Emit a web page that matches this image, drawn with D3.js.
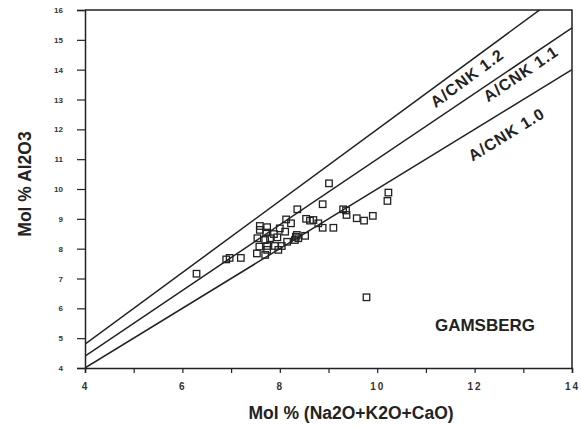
<!DOCTYPE html>
<html>
<head>
<meta charset="utf-8">
<script src="https://cdn.jsdelivr.net/npm/d3@7/dist/d3.min.js"></script>
<style>
  html, body { margin: 0; padding: 0; background: #fff; }
  svg { display: block; font-family: "Liberation Sans", Arial, Helvetica, sans-serif; }
</style>
</head>
<body>
<svg id="chart" width="581" height="427"></svg>
<script>
// Gamsberg samples: molar (Na2O+K2O+CaO) vs molar Al2O3
const sampleX = [6.29, 6.90, 6.97, 7.20, 7.53, 7.70, 7.74, 7.58, 7.74, 7.90, 8.04, 7.97,
  7.54, 7.70, 7.80, 7.95, 8.15, 7.59, 7.59, 7.74, 7.72, 7.88, 8.00, 8.11, 8.13, 8.23,
  8.36, 8.31, 8.35, 8.38, 8.33, 8.52, 8.54, 8.62, 8.69, 8.79, 8.88, 9.10, 8.88, 9.01,
  9.30, 9.36, 9.37, 9.58, 9.73, 9.91, 10.23, 10.21, 9.78];
const sampleY = [7.16, 7.64, 7.69, 7.69, 7.84, 7.79, 7.96, 8.07, 8.09, 8.09, 8.09, 7.96,
  8.35, 8.29, 8.35, 8.38, 8.23, 8.63, 8.76, 8.72, 8.54, 8.49, 8.68, 8.57, 8.98, 8.85,
  9.32, 8.29, 8.46, 8.35, 8.40, 8.43, 9.00, 8.94, 8.96, 8.85, 8.70, 8.70, 9.49, 10.19,
  9.32, 9.28, 9.13, 9.02, 8.94, 9.10, 9.88, 9.60, 6.37];

// Reference lines of constant A/CNK = Al2O3 / (Na2O+K2O+CaO)
const ratios = [1.2, 1.1, 1.0];
const ratioLabels = ["A/CNK 1.2", "A/CNK 1.1", "A/CNK 1.0"];
const labelAtX = [11.70, 12.84, 12.43];   // where along each line its label sits
const labelGap = [12, 9.5, 21];           // distance of the label below its line

const xTicks = [4, 5, 6, 7, 8, 9, 10, 11, 12, 13, 14];
const xTickLabels = [4, 6, 8, 10, 12, 14];
const yTicks = [4, 5, 6, 7, 8, 9, 10, 11, 12, 13, 14, 15, 16];

const plot = { left: 85, right: 572, top: 10, bottom: 368 };
const ink = "#222";

const svg = d3.select("#chart");
const x = d3.scaleLinear().domain([4, 14]).range([plot.left, plot.right]);
const y = d3.scaleLinear().domain([4, 16]).range([plot.bottom, plot.top]);

svg.append("defs").append("clipPath").attr("id", "plotClip")
  .append("rect")
  .attr("x", plot.left).attr("y", plot.top)
  .attr("width", plot.right - plot.left).attr("height", plot.bottom - plot.top);

// Axes
const xAxis = svg.append("g")
  .attr("transform", `translate(0,${plot.bottom})`)
  .call(d3.axisBottom(x).tickValues(xTicks).tickSize(5).tickPadding(10)
    .tickFormat(d => xTickLabels.includes(d) ? d : ""));
xAxis.selectAll("text").attr("font-size", 10).attr("font-weight", "bold")
  .attr("letter-spacing", "2px").attr("fill", "#333");

const yAxis = svg.append("g")
  .attr("transform", `translate(${plot.left},0)`)
  .call(d3.axisLeft(y).tickValues(yTicks).tickSize(8).tickPadding(14));
yAxis.selectAll("text").attr("font-size", 8).attr("font-weight", "bold").attr("fill", "#333");

[xAxis, yAxis].forEach(g => {
  g.select(".domain").attr("stroke", ink).attr("stroke-width", 1.5);
  g.selectAll(".tick line").attr("stroke", ink).attr("stroke-width", 1.2);
  g.attr("font-family", null);
});

// Frame: top and right edges
svg.append("path")
  .attr("d", `M${plot.left},${plot.top}H${plot.right}V${plot.bottom}`)
  .attr("fill", "none").attr("stroke", ink).attr("stroke-width", 1.5);

// A/CNK lines
const lineGen = d3.line().x(d => x(d[0])).y(d => y(d[1]));
svg.append("g").attr("clip-path", "url(#plotClip)")
  .selectAll("path").data(ratios).join("path")
  .attr("d", k => lineGen([[4, 4 * k], [14, 14 * k]]))
  .attr("fill", "none").attr("stroke", ink).attr("stroke-width", 1.5);

// Line labels, rotated to follow each line
ratios.forEach((k, i) => {
  const x0 = labelAtX[i];
  const px = x(x0), py = y(k * x0);
  const angle = Math.atan2(y(k * 14) - y(k * 4), x(14) - x(4)) * 180 / Math.PI;
  svg.append("text")
    .attr("transform", `translate(${px},${py}) rotate(${angle})`)
    .attr("y", labelGap[i])
    .attr("text-anchor", "middle")
    .attr("dominant-baseline", "central")
    .attr("font-size", 16).attr("font-weight", "bold")
    .attr("letter-spacing", "1px")
    .attr("fill", ink)
    .text(ratioLabels[i]);
});

// Sample points
const pts = sampleX.map((v, i) => [v, sampleY[i]]);
const s = 6.5;
svg.append("g").selectAll("rect").data(pts).join("rect")
  .attr("x", d => x(d[0]) - s / 2)
  .attr("y", d => y(d[1]) - s / 2)
  .attr("width", s).attr("height", s)
  .attr("fill", "none").attr("stroke", ink).attr("stroke-width", 1.3);

// Locality name
svg.append("text")
  .attr("x", 485).attr("y", 331)
  .attr("text-anchor", "middle")
  .attr("font-size", 17).attr("font-weight", "bold").attr("fill", ink)
  .text("GAMSBERG");

// Axis titles
svg.append("text")
  .attr("x", 351).attr("y", 419)
  .attr("text-anchor", "middle")
  .attr("font-size", 17.5).attr("font-weight", "bold").attr("fill", ink)
  .text("Mol % (Na2O+K2O+CaO)");

svg.append("text")
  .attr("transform", "translate(31,184) rotate(-90)")
  .attr("text-anchor", "middle")
  .attr("font-size", 17.5).attr("font-weight", "bold").attr("fill", ink)
  .text("Mol % Al2O3");
</script>
</body>
</html>
